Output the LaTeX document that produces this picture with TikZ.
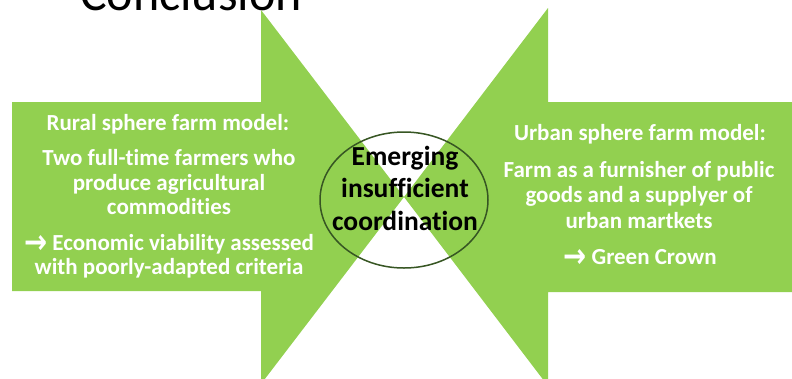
\documentclass[tikz,border=0pt]{standalone}
\usepackage{fontspec}
\setmainfont{Carlito}[Ligatures={NoCommon,NoRequired,NoContextual}]
\newfontfamily\arrowfont{DejaVu Sans}
\usetikzlibrary{shapes.geometric}
\definecolor{armgreen}{HTML}{92D050}
\definecolor{ringgreen}{HTML}{375623}
\newcommand{\rarr}{\raisebox{-0.17em}{\scalebox{1.2}[1.45]{\arrowfont\bfseries →}}}
\begin{document}
\begin{tikzpicture}[x=1pt,y=-1pt,
  armshape/.style={fill=armgreen, draw=none},
  sidetext/.style={text=white, font=\fontsize{23}{25}\selectfont\bfseries, inner sep=0pt, anchor=base},
  midtext/.style={text=black, font=\fontsize{27.5}{32}\selectfont\bfseries, inner sep=0pt, anchor=base},
]
\useasboundingbox (0,0) rectangle (792,378);
\fill[white] (0,0) rectangle (792,378);
\node[font=\fontsize{50}{60}\selectfont, anchor=base, inner sep=0pt] (title) at (191,10) {Conclusion};
% left arrow
\fill[armshape] (12,102) -- (261,102) -- (261,10) -- (404,197) -- (261,384) -- (261,291) -- (12,291) -- cycle;
% right arrow
\fill[armshape] (792,102) -- (548,102) -- (548,8) -- (404,197) -- (548,386) -- (548,292) -- (792,292) -- cycle;
\node[draw=ringgreen, line width=1.5pt, ellipse, minimum width=168pt, minimum height=136pt, inner sep=0pt] (hub) at (404,200) {};
% left texts
\node[sidetext] (l1) at (168,130) {Rural sphere farm model:};
\node[sidetext] (l2) at (169,165) {Two full-time farmers who};
\node[sidetext] (l3) at (169,190) {produce agricultural};
\node[sidetext] (l4) at (169,214) {commodities};
\node[sidetext] (l5) at (169,250) {\rarr{} Economic viability assessed};
\node[sidetext] (l6) at (169,274) {with poorly-adapted criteria};
% right texts
\node[sidetext] (r1) at (640,140) {Urban sphere farm model:};
\node[sidetext] (r2) at (639,177) {Farm as a furnisher of public};
\node[sidetext] (r3) at (639,202) {goods and a supplyer of};
\node[sidetext] (r4) at (639,228) {urban martkets};
\node[sidetext] (r5) at (640,264) {\rarr{} Green Crown};
% centre texts
\node[midtext] (c1) at (405,165) {Emerging};
\node[midtext] (c2) at (405,197) {insufficient};
\node[midtext] (c3) at (405,230) {coordination};
\end{tikzpicture}
\end{document}
